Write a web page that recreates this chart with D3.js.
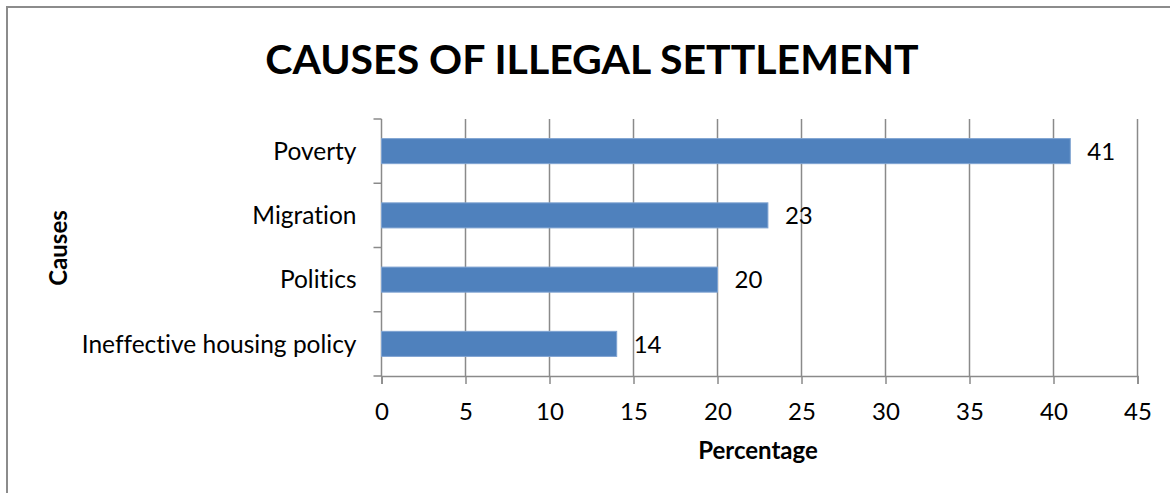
<!DOCTYPE html>
<html>
<head>
<meta charset="utf-8">
<script src="https://cdn.jsdelivr.net/npm/d3@7"></script>
<style>
  html, body { margin: 0; padding: 0; background: #fff; }
  svg { display: block; }
  text { font-family: Lato, "Open Sans", sans-serif; fill: #000; font-variant-ligatures: none; }
</style>
</head>
<body>
<svg id="chart" width="1170" height="493"></svg>
<script>
// Survey results: causes of illegal settlement (percentage of respondents)
const causes = ["Poverty", "Migration", "Politics", "Ineffective housing policy"];
const percentages = [41, 23, 20, 14];
const xTicks = [0, 5, 10, 15, 20, 25, 30, 35, 40, 45];
const chartTitle = "CAUSES OF ILLEGAL SETTLEMENT";
const xTitle = "Percentage";
const yTitle = "Causes";

const svg = d3.select("#chart");
const W = 1170, H = 493;
const plot = { left: 381.5, right: 1137.5, top: 119, bottom: 376 };
const gridColor = "#8a8a8a";
const barColor = "#4f81bd";

// chart frame (runs past the right and bottom edges)
svg.append("rect")
  .attr("x", 7).attr("y", 7)
  .attr("width", W + 20).attr("height", H + 20)
  .attr("fill", "#fff").attr("stroke", "#8c8c8c").attr("stroke-width", 2);

const x = d3.scaleLinear().domain([0, 45]).range([plot.left, plot.right]);
const y = d3.scaleBand().domain(causes).range([plot.top, plot.bottom])
  .paddingInner(0.61).paddingOuter(0.305);

// vertical gridlines
svg.append("g").selectAll("line")
  .data(xTicks.filter(d => d > 0))
  .join("line")
  .attr("x1", d => x(d)).attr("x2", d => x(d))
  .attr("y1", plot.top).attr("y2", plot.bottom)
  .attr("stroke", gridColor).attr("stroke-width", 1.5);

// x axis
const xAxis = svg.append("g")
  .attr("transform", `translate(0,${plot.bottom})`)
  .call(d3.axisBottom(x).tickValues(xTicks).tickSize(8).tickPadding(19));
xAxis.select(".domain").attr("stroke", gridColor).attr("stroke-width", 1.5);
xAxis.selectAll(".tick line").attr("stroke", gridColor).attr("stroke-width", 1.5);
xAxis.selectAll(".tick text")
  .style("font-family", "Lato, sans-serif").style("font-size", "24px").attr("fill", "#000");

// y axis: ticks sit between categories
const bounds = causes.map(c => y(c) - y.step() * y.paddingInner() / 2).concat([plot.bottom]);
svg.append("line")
  .attr("x1", plot.left).attr("x2", plot.left)
  .attr("y1", plot.top).attr("y2", plot.bottom)
  .attr("stroke", gridColor).attr("stroke-width", 1.5);
svg.append("g").selectAll("line")
  .data(bounds)
  .join("line")
  .attr("x1", plot.left - 8).attr("x2", plot.left)
  .attr("y1", d => d).attr("y2", d => d)
  .attr("stroke", gridColor).attr("stroke-width", 1.5);

svg.append("g").selectAll("text")
  .data(causes)
  .join("text")
  .attr("x", plot.left - 25)
  .attr("y", d => y(d) + y.bandwidth() / 2)
  .attr("dy", "0.36em")
  .attr("text-anchor", "end")
  .style("font-size", "24.5px")
  .text(d => d);

// bars
svg.append("g").selectAll("rect")
  .data(causes.map((c, i) => ({ cause: c, value: percentages[i] })))
  .join("rect")
  .attr("x", x(0))
  .attr("y", d => y(d.cause))
  .attr("width", d => x(d.value) - x(0))
  .attr("height", y.bandwidth())
  .attr("fill", barColor)
  .attr("stroke", "#7fa3d1").attr("stroke-width", 1);

// value labels
svg.append("g").selectAll("text")
  .data(causes.map((c, i) => ({ cause: c, value: percentages[i] })))
  .join("text")
  .attr("x", d => x(d.value) + 17)
  .attr("y", d => y(d.cause) + y.bandwidth() / 2)
  .attr("dy", "0.36em")
  .style("font-size", "24px")
  .text(d => d.value);

// titles
svg.append("text")
  .attr("x", 592).attr("y", 74)
  .attr("text-anchor", "middle")
  .style("font-size", "41px").style("font-weight", "bold")
  .text(chartTitle);

svg.append("text")
  .attr("x", 758).attr("y", 459)
  .attr("text-anchor", "middle")
  .style("font-size", "24px").style("font-weight", "bold")
  .text(xTitle);

svg.append("text")
  .attr("transform", "translate(67,248) rotate(-90)")
  .attr("text-anchor", "middle")
  .style("font-size", "24px").style("font-weight", "bold")
  .text(yTitle);
</script>
</body>
</html>
